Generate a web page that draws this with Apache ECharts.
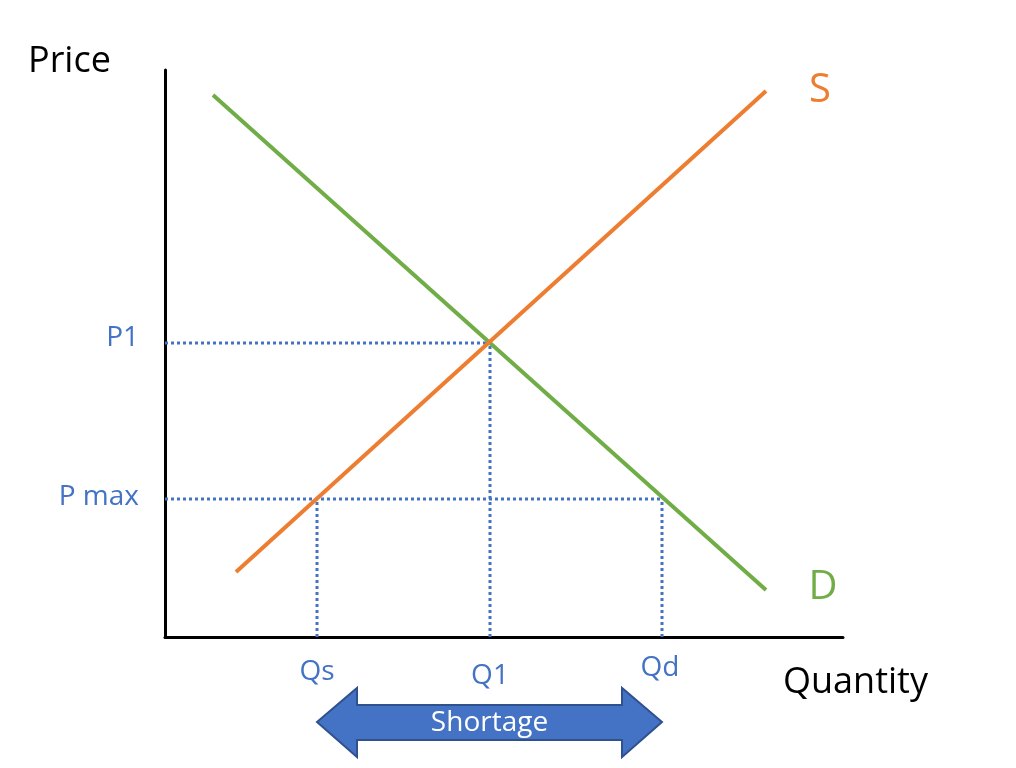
<!DOCTYPE html>
<html><head><meta charset="utf-8">
<script src="https://cdn.jsdelivr.net/npm/echarts@6/dist/echarts.min.js"></script>
<style>html,body{margin:0;padding:0;background:#fff}#c{width:1016px;height:768px}</style>
</head><body><div id="c"></div>
<script>
// data in chart units (x: quantity, y: price)
const demand = [[48, 542], [601, 47]];
const supply = [[71, 65], [601, 546]];
const equilibrium = [325, 294];
const pMax = 138;
const qS = 152, qD = 497;
const tickLabels = {p1: 'P1', pmax: 'P max', qs: 'Qs', q1: 'Q1', qd: 'Qd'};

const blue = '#4472C4', orange = '#ED7D31', green = '#70AD47';
const FONT = 'Open Sans';
const dot = {color: blue, width: 3, type: [3, 3]};
const dotted = (pts) => ({type: 'line', data: pts, symbol: 'none', lineStyle: dot, z: 1, silent: true});

const chart = echarts.init(document.getElementById('c'));
chart.setOption({
  animation: false,
  grid: {left: 165, right: 173, top: 70, bottom: 131},
  xAxis: {type: 'value', min: 0, max: 678, axisLine: {lineStyle: {color: '#000', width: 3}}, axisTick: {show: false}, axisLabel: {show: false}, splitLine: {show: false}},
  yAxis: {type: 'value', min: 0, max: 567, axisLine: {show: true, lineStyle: {color: '#000', width: 3}}, axisTick: {show: false}, axisLabel: {show: false}, splitLine: {show: false}},
  series: [
    dotted([[0, equilibrium[1]], equilibrium]),
    dotted([[equilibrium[0], 0], equilibrium]),
    dotted([[0, pMax], [qD, pMax]]),
    dotted([[qS, 0], [qS, pMax]]),
    dotted([[qD, 0], [qD, pMax]]),
    {type: 'line', data: demand, symbol: 'none', lineStyle: {color: green, width: 4}, z: 3},
    {type: 'line', data: supply, symbol: 'none', lineStyle: {color: orange, width: 4}, z: 3}
  ]
});

const px = (p) => chart.convertToPixel({gridIndex: 0}, p);
const txt = (x, y, s, color, size, align, vAlign) => ({type: 'text', x, y, style: {text: s, fill: color, font: size + 'px "' + FONT + '"', align: align || 'center', verticalAlign: vAlign || 'middle'}});
const p1 = px([0, equilibrium[1]]), pm = px([0, pMax]);
const xs = px([qS, 0])[0], x1 = px([equilibrium[0], 0])[0], xd = px([qD, 0])[0];
const sTop = px(supply[1]), dEnd = px(demand[1]);
const ay = 722;
chart.setOption({graphic: [
  txt(28, 62, 'Price', '#000', 36, 'left'),
  txt(783, 683, 'Quantity', '#000', 36, 'left'),
  txt(sTop[0] + 54, sTop[1], 'S', orange, 40),
  txt(dEnd[0] + 57, dEnd[1] - 2, 'D', green, 40),
  txt(p1[0] - 26, p1[1] - 5, tickLabels.p1, blue, 28, 'right'),
  txt(pm[0] - 26, pm[1] - 2, tickLabels.pmax, blue, 28, 'right'),
  txt(xs, 672, tickLabels.qs, blue, 28),
  txt(x1, 676, tickLabels.q1, blue, 28),
  txt(xd - 2, 668, tickLabels.qd, blue, 28),
  {type: 'polygon', shape: {points: [
    [xs, ay], [xs + 40, 688], [xs + 40, 705], [xd - 40, 705], [xd - 40, 688], [xd, ay],
    [xd - 40, 757], [xd - 40, 740], [xs + 40, 740], [xs + 40, 757]
  ]}, style: {fill: blue, stroke: '#2F528F', lineWidth: 2}},
  txt((xs + xd) / 2, ay + 1, 'Shortage', '#fff', 28)
]});
</script></body></html>
